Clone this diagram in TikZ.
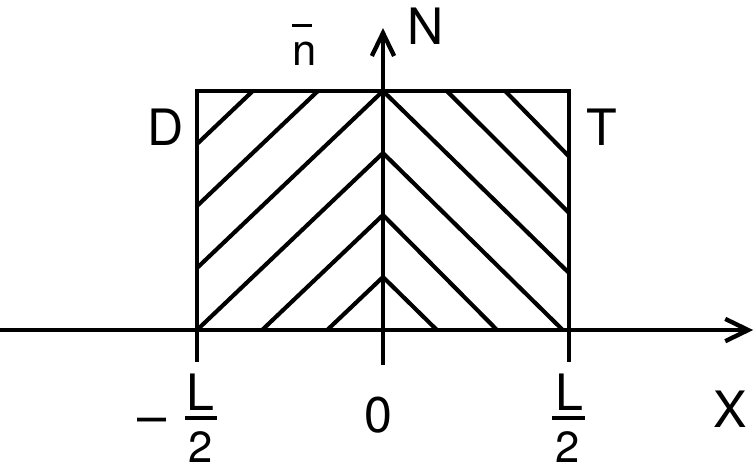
\documentclass[tikz,border=0pt]{standalone}
\usepackage{fontspec}
\setmainfont{TeX Gyre Heros}
\usetikzlibrary{arrows.meta, positioning}

\begin{document}
\begin{tikzpicture}[
    line width=2pt,
    lbl/.style={font=\fontsize{23}{27}\selectfont, inner sep=0pt, anchor=base},
    hatch/.style={line width=1.9pt},
    axis/.style={-{Straight Barb[length=0.37cm, width=0.36cm]}, line width=2pt},
    fracbar/.style={fill=black, inner sep=0pt, minimum width=0.52cm, minimum height=1.6pt}
  ]
  \useasboundingbox (-6.177,-2.242) rectangle (6.0,5.323);

  % axes
  \coordinate (xl) at (-6.177,0);
  \coordinate (xr) at (5.97,0);
  \coordinate (yb) at (0,-0.565);
  \coordinate (yt) at (0,4.87);
  \draw[axis] (xl) -- (xr);
  \draw[axis] (yb) -- (yt);

  % box and ticks
  \draw (-3,0) rectangle (3,3.855);
  \draw (-3,0) -- (-3,-0.52);
  \draw (3,0) -- (3,-0.52);

  % hatching, left half
  \draw[hatch] (0,3.855) -- (-3,1.0);
  \draw[hatch] (0,2.855) -- (-3,0);
  \draw[hatch] (0,1.855) -- (-1.95,0);
  \draw[hatch] (0,0.855) -- (-0.9,0);
  \draw[hatch] (-1.05,3.855) -- (-3,2.0);
  \draw[hatch] (-2.1,3.855) -- (-3,3.0);
  % hatching, right half
  \draw[hatch] (0,3.855) -- (3,0.92);
  \draw[hatch] (0,2.855) -- (2.9,0);
  \draw[hatch] (0,1.855) -- (1.84,0);
  \draw[hatch] (0,0.855) -- (0.87,0);
  \draw[hatch] (1.03,3.855) -- (3,1.89);
  \draw[hatch] (1.97,3.855) -- (3,2.8);

  % labels
  \node[lbl] (nlab) at (0.68,4.6) {N};
  \node[lbl, font=\fontsize{20}{24}\selectfont] (nbar) at (-1.27,4.27) {\rlap{\rule[0.87em]{0.46em}{1.6pt}}n};
  \node[lbl] (dlab) at (-3.5,2.98) {D};
  \node[lbl] (tlab) at (3.53,2.98) {T};
  \node[lbl] (olab) at (-0.08,-1.645) {0};
  \node[lbl] (xlab) at (5.6,-1.565) {X};

  % -L/2
  \node[lbl, font=\fontsize{24}{28}\selectfont] (minus) at (-3.73,-1.69) {–};
  \node[lbl] (lnuml) at (-2.94,-1.29) {L};
  \node[fracbar] (lbarl) at (-2.94,-1.42) {};
  \node[lbl, font=\fontsize{20}{24}\selectfont] (ldenl) at (-2.94,-2.14) {2};
  % L/2
  \node[lbl] (lnumr) at (3.0,-1.29) {L};
  \node[fracbar] (lbarr) at (2.99,-1.42) {};
  \node[lbl, font=\fontsize{20}{24}\selectfont] (ldenr) at (2.97,-2.14) {2};
\end{tikzpicture}
\end{document}
